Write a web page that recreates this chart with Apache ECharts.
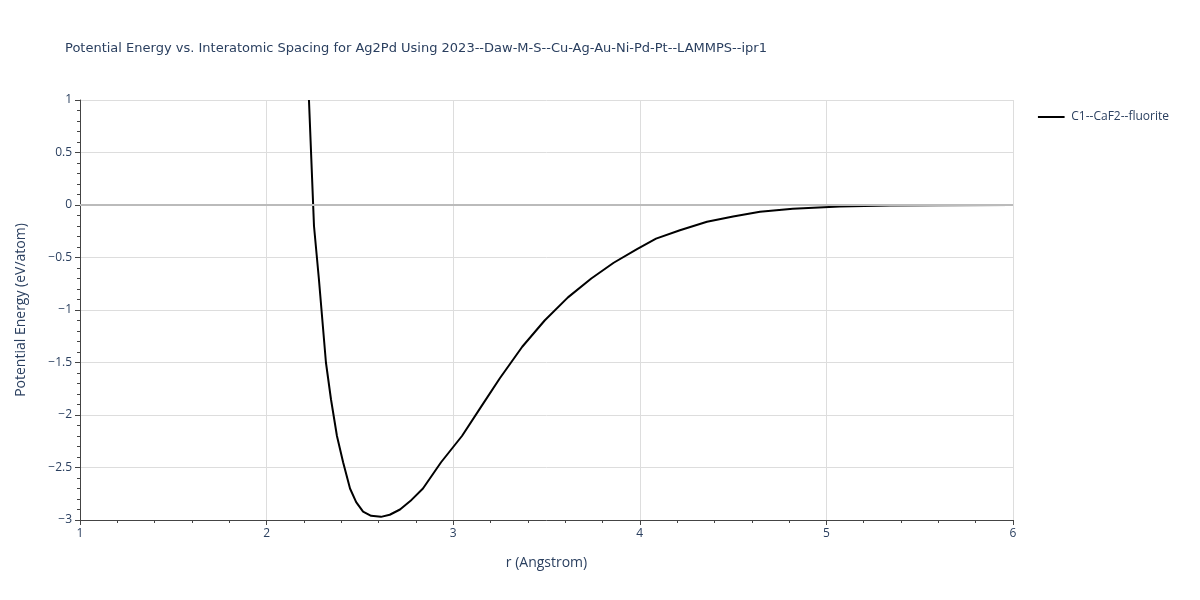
<!DOCTYPE html>
<html><head><meta charset="utf-8">
<script src="https://cdn.jsdelivr.net/npm/echarts@6/dist/echarts.min.js"></script>
<style>html,body{margin:0;padding:0;background:#fff}#c{width:1200px;height:600px}</style>
</head><body><div id="c"></div>
<script>
const seriesName = 'C1--CaF2--fluorite';
const rValues = [2.227,2.254,2.28,2.318,2.345,2.377,2.41,2.447,2.48,2.517,2.56,2.613,2.66,2.715,2.77,2.838,2.935,3.047,3.15,3.25,3.37,3.49,3.615,3.74,3.86,3.985,4.087,4.215,4.36,4.5,4.644,4.82,5.07,5.34,5.6,6.0];
const energies = [1.0,-0.2,-0.7,-1.5,-1.85,-2.2,-2.45,-2.7,-2.83,-2.92,-2.96,-2.97,-2.95,-2.9,-2.82,-2.7,-2.45,-2.2,-1.92,-1.65,-1.35,-1.1,-0.88,-0.7,-0.55,-0.42,-0.32,-0.24,-0.16,-0.11,-0.065,-0.035,-0.015,-0.005,-0.002,0];
const xTicks = [1,2,3,4,5,6];
const yTicks = [-3,-2.5,-2,-1.5,-1,-0.5,0,0.5,1];
const fmt = v => v < 0 ? '\u2212' + Math.abs(v) : String(v);
const chart = echarts.init(document.getElementById('c'));
const txt = '#2a3f5f';
chart.setOption({
  animation:false,
  textStyle:{fontFamily:'Open Sans, sans-serif'},
  title:{text:'Potential Energy vs. Interatomic Spacing for Ag2Pd Using 2023--Daw-M-S--Cu-Ag-Au-Ni-Pd-Pt--LAMMPS--ipr1',left:60,top:37,textStyle:{fontSize:13,fontWeight:'normal',color:txt,fontFamily:'DejaVu Sans, sans-serif'}},
  legend:{right:26,top:106,icon:'path://M0,0L40,0L40,3L0,3Z',itemWidth:30,itemHeight:2,textStyle:{color:txt,fontSize:12},data:[seriesName]},
  grid:{left:80,right:187,top:100,bottom:80},
  xAxis:{type:'value',min:xTicks[0],max:xTicks[xTicks.length-1],interval:1,name:'r (Angstrom)',nameLocation:'middle',nameGap:36,nameTextStyle:{fontSize:14,color:txt},
    axisLine:{onZero:false,lineStyle:{color:'#444'}},axisTick:{show:true,length:5,lineStyle:{color:'#444'}},minorTick:{show:true,splitNumber:5,length:3,lineStyle:{color:'#444'}},
    axisLabel:{color:txt,fontSize:12,formatter:fmt},splitLine:{lineStyle:{color:'#ddd'}}},
  yAxis:{type:'value',min:-3,max:1,interval:0.5,name:'Potential Energy (eV/atom)',nameLocation:'middle',nameGap:52,nameTextStyle:{fontSize:14,color:txt},
    axisLine:{show:true,onZero:false,lineStyle:{color:'#444'}},axisTick:{show:true,length:5,lineStyle:{color:'#444'}},minorTick:{show:true,splitNumber:5,length:3,lineStyle:{color:'#444'}},
    axisLabel:{color:txt,fontSize:12,formatter:fmt},splitLine:{lineStyle:{color:'#ddd'}}},
  series:[{name:seriesName,type:'line',data:rValues.map((r,i)=>[r,energies[i]]),showSymbol:false,smooth:false,clip:true,
    lineStyle:{color:'#000',width:2},itemStyle:{color:'#000'},
    markLine:{silent:true,symbol:'none',label:{show:false},lineStyle:{color:'#bbb',type:'solid',width:2},data:[{yAxis:0}]}}]
});
</script></body></html>
